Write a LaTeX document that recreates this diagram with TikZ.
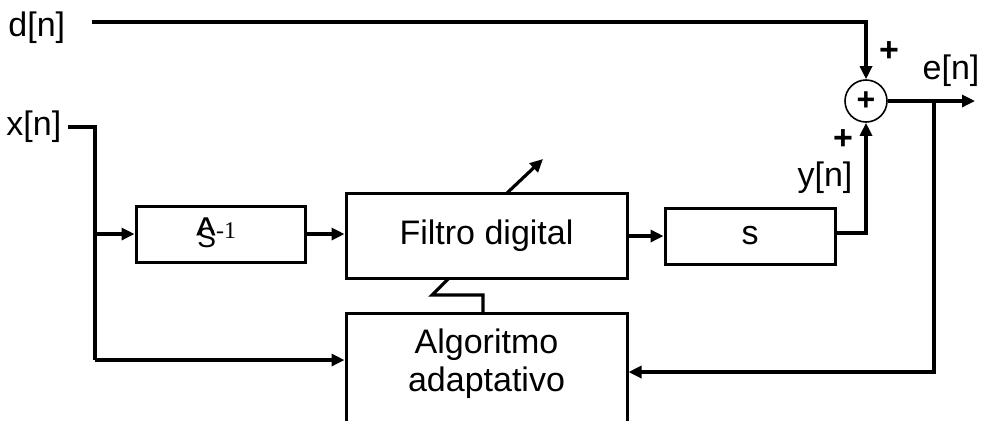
\documentclass[tikz,border=0pt]{standalone}
\usepackage{fontspec}
\setmainfont{Liberation Sans}
\newfontfamily\numfont{Liberation Serif}
\usetikzlibrary{arrows.meta}

\begin{document}
\begin{tikzpicture}[x=0.5pt,y=-0.5pt,
  wire/.style={line width=1.6pt},
  arr/.style={wire,-{Triangle[length=6.5pt,width=6pt]}},
  blk/.style={draw,fill=white,line width=1.5pt,inner sep=0pt,
              font=\fontsize{17}{20}\selectfont},
  lbl/.style={inner sep=0pt,font=\fontsize{17}{20}\selectfont},
  sgn/.style={inner sep=0pt,font=\fontsize{17}{20}\selectfont\bfseries}]
  \useasboundingbox (0,0) rectangle (983,420);
  \clip (0,0) rectangle (983,420);

  % tuning path of the filter coefficients (drawn under the boxes)
  \coordinate (tuneA) at (483,295);
  \coordinate (tuneB) at (432,295);
  \coordinate (tuneC) at (449,278);
  \draw[wire] (483,312) -- (tuneA) -- (tuneB) -- (tuneC);

  % blocks
  \node[blk,minimum width=84.5pt,minimum height=28pt] (sinv) at (220.5,234) {};
  \node[inner sep=0pt,anchor=base west] (sinvtxt) at (197,247)
    {\fontsize{14}{16}\selectfont\ooalign{S\cr\hidewidth\raisebox{-2.6pt}{\scalebox{1.5}[1.8]{\symbol{"5E}}}\hidewidth\cr}\raisebox{4.2pt}{\numfont\fontsize{12}{14}\selectfont-1}};
  \node[blk,minimum width=140.5pt,minimum height=42.5pt] (filt) at (486.5,235.5) {Filtro digital};
  \node[blk,minimum width=85pt,minimum height=28pt] (sblk) at (750,236) {s};
  \node[blk,minimum width=140.5pt,minimum height=64pt,anchor=north] (alg) at (486.5,312) {};
  \node[align=center,inner sep=0pt,font=\fontsize{17}{19}\selectfont] (algtxt) at (486.5,364)
    {Algoritmo\\adaptativo};

  % adjustment arrow crossing the filter
  \coordinate (adjtip) at (543,159);
  \draw[arr] (507,193) -- (adjtip);

  % summing junction
  \node[draw,circle,line width=0.8pt,minimum size=21pt,inner sep=0pt] (sum) at (866,101)
    {\fontsize{16}{18}\selectfont\bfseries +};

  % signal labels
  \node[lbl,anchor=west] (dn) at (8,28) {d[n]};
  \node[lbl,anchor=west] (xn) at (6,127) {x[n]};
  \node[lbl] (en) at (951,71) {e[n]};
  \node[lbl] (yn) at (825,178) {y[n]};
  \node[sgn] (pd) at (889,52) {+};
  \node[sgn] (py) at (843,140) {+};

  % connectors
  \coordinate (dst) at (92,22);
  \coordinate (xst) at (68,127);
  \coordinate (xc) at (95,127);
  \coordinate (xbr) at (95,234);
  \coordinate (xlo) at (95,360);
  \coordinate (sout) at (866,233);
  \coordinate (ebr) at (934,101);
  \coordinate (eend) at (975,101);
  \coordinate (elo) at (934,372);

  \draw[arr] (dst) -| (sum.north);
  \draw[wire] (xst) -- (xc) -- (xlo);
  \draw[arr] (xlo) -- (alg.west |- xlo);
  \draw[arr] (xbr) -- (sinv.west);
  \draw[arr] (sinv.east) -- (filt.west |- sinv.east);
  \draw[arr] (filt.east |- sblk.west) -- (sblk.west);
  \draw[arr] (sblk.east |- sout) -- (sout) -- (sum.south);
  \draw[arr] (sum.east) -- (eend);
  \draw[arr] (ebr) -- (elo) -- (alg.east |- elo);
\end{tikzpicture}
\end{document}
